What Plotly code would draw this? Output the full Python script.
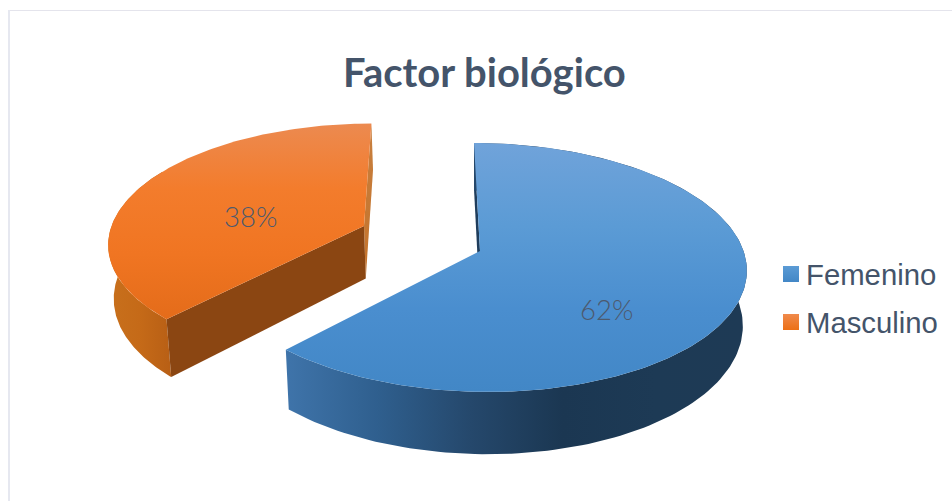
import numpy as np
import plotly.graph_objects as go

# ---- data ----
categories = ["Femenino", "Masculino"]
values = [62, 38]
chart_title = "Factor biológico"

# ---- perspective projection of the pie (style/geometry constants) ----
W, H = 952, 501
X0, Y0 = 480.0, 251.0      # screen position of the pie centre
A, B, C, K = 263.5, -89.0, -6.8, 0.1325
DEPTH = 54.0
SHRINK = 0.985
EXPLODE = [(0.0, 0.0), (-0.447, 0.21)]
U_SCALE = [1.0, 0.985]
ORANGE_WALL_END = 300      # the rest of that wall faces away from the viewer


def top(u, v):
    d = 1 + K * v
    return X0 + (A * u + C * v) / d, (Y0 + B * v) / d


def bottom(u, v):
    x, y = top(u, v)
    return X0 + (x - X0) * SHRINK, y + DEPTH / (1 + K * v)


def rim(theta0, theta1, off, su=1.0, n=160):
    t = np.radians(np.linspace(theta0, theta1, n))
    return off[0] + su * np.sin(t), off[1] + np.cos(t)


def poly(xs, ys, grad, colors, name):
    # vertical gradients are listed top to bottom; plotly paints them bottom to top
    if grad == "vertical":
        colors = colors[::-1]
    scale = [[i / (len(colors) - 1), c] for i, c in enumerate(colors)]
    return go.Scatter(
        x=list(xs), y=list(ys), mode="lines", fill="toself", name=name,
        line=dict(width=0), showlegend=False, hoverinfo="skip",
        fillgradient=dict(type=grad, colorscale=scale),
    )


total = sum(values)
ang = np.cumsum([0] + [v / total * 360 for v in values])
traces = []

# Femenino
o, su = EXPLODE[0], U_SCALE[0]
t0, t1 = ang[0], ang[1]
ax, ay = top(*o)
bx, by = bottom(*o)
rx, ry = top(o[0], o[1] + 1)
qx, qy = bottom(o[0], o[1] + 1)
traces.append(poly([ax, rx, qx, bx], [ay, ry, qy, by], "vertical", ["#1f3d5c", "#1f3d5c"], "Femenino cara"))
u, v = rim(t0, t1, o, su)
tx, ty = top(u, v)
dx, dy = bottom(u, v)
traces.append(poly(np.r_[tx, dx[::-1]], np.r_[ty, dy[::-1]], "horizontal",
                   ["#3f74aa", "#2f5f8e", "#25486c", "#1b3752", "#1d3a55", "#1e3a55"], "Femenino lado"))
traces.append(poly(np.r_[ax, tx], np.r_[ay, ty], "vertical",
                   ["#70a3da", "#5b9bd5", "#4a8ecf", "#4287c6"], "Femenino"))

# Masculino
o, su = EXPLODE[1], U_SCALE[1]
t0, t1 = ang[1], ang[2]
ax, ay = top(*o)
bx, by = bottom(*o)
u, v = rim(t0, t1, o, su)
tx, ty = top(u, v)
dx, dy = bottom(u, v)
traces.append(poly([ax, tx[-1], dx[-1], bx], [ay, ty[-1], dy[-1], by], "vertical",
                   ["#c8803f", "#c4722a"], "Masculino cara 2"))
uw, vw = rim(t0, ORANGE_WALL_END, o, su)
wx, wy = top(uw, vw)
ex, ey = bottom(uw, vw)
traces.append(poly(np.r_[wx, ex[::-1]], np.r_[wy, ey[::-1]], "horizontal",
                   ["#c8701c", "#c56a18", "#b85f15"], "Masculino lado"))
traces.append(poly([ax, tx[0], dx[0], bx], [ay, ty[0], dy[0], by], "vertical",
                   ["#8b4612", "#8b4612"], "Masculino cara"))
traces.append(poly(np.r_[ax, tx], np.r_[ay, ty], "vertical",
                   ["#ec8a50", "#f37c2c", "#f07522", "#e46c1a"], "Masculino"))

fig = go.Figure(traces)

annotations = [
    dict(x=606, y=309, text=f"{values[0]}%", showarrow=False,
         font=dict(family="Lato", size=27.5, color="#4d5a6e", weight=300)),
    dict(x=250, y=216, text=f"{values[1]}%", showarrow=False,
         font=dict(family="Lato", size=27.5, color="#4d5a6e", weight=300)),
    dict(x=484, y=72, text=f"<b>{chart_title}</b>", showarrow=False,
         font=dict(family="Lato", size=40, color="#44546a")),
]

# Legend rows
legend_y = [274, 322]
legend_colors = [("#5b9bd5", "#4287c6"), ("#f08a4c", "#ec7016")]
for name, yy, (c1, c2) in zip(categories, legend_y, legend_colors):
    fig.add_trace(go.Scatter(
        x=[791], y=[yy], mode="markers", showlegend=False, hoverinfo="skip",
        marker=dict(symbol="square", size=16, color=c1, line=dict(width=0),
                    gradient=dict(type="vertical", color=c2)),
    ))
    annotations.append(dict(x=804, y=yy, text=name, xanchor="left", showarrow=False,
                            font=dict(family="Liberation Sans", size=29.3, color="#44546a")))

fig.update_layout(
    width=W, height=H, autosize=False,
    margin=dict(l=0, r=0, t=0, b=0),
    paper_bgcolor="white", plot_bgcolor="white",
    showlegend=False,
    xaxis=dict(range=[0, W], visible=False, fixedrange=True),
    yaxis=dict(range=[H, 0], visible=False, fixedrange=True),
    annotations=annotations,
    shapes=[
        dict(type="line", x0=9, x1=W, y0=10.5, y1=10.5, line=dict(color="#e4e4ec", width=1), layer="below"),
        dict(type="line", x0=9, x1=9, y0=10, y1=H, line=dict(color="#e6e8f0", width=2), layer="below"),
    ],
)
fig.write_html("out.html", config={"displayModeBar": False},
               post_script="document.body.style.margin='0';document.body.style.overflow='hidden';")
